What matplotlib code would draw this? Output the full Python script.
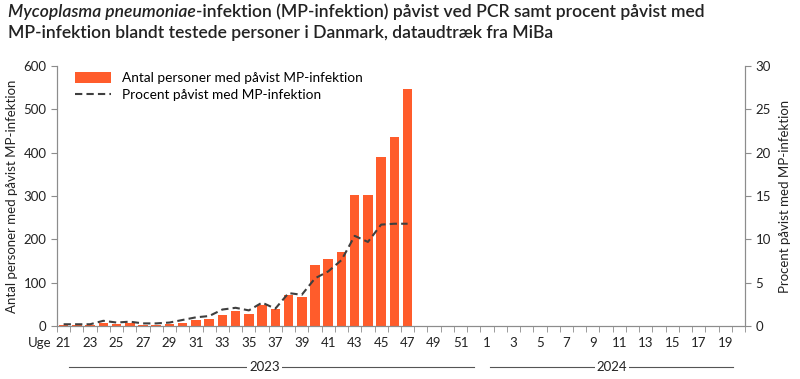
import matplotlib
matplotlib.use("Agg")
import matplotlib.pyplot as plt
import matplotlib.transforms as mtransforms
import numpy as np

weeks_2023 = list(range(21, 53))
weeks_2024 = list(range(1, 21))
week_labels = [str(w) for w in weeks_2023 + weeks_2024]

antal = [3, 2, 2, 8, 5, 7, 3, 2, 5, 8, 15, 17, 25, 35, 28, 49, 40, 72, 67,
         141, 155, 170, 303, 303, 391, 437, 546]
procent = [0.2, 0.2, 0.2, 0.6, 0.4, 0.5, 0.3, 0.3, 0.4, 0.7, 1.0, 1.15, 1.9,
           2.1, 1.8, 2.7, 2.0, 3.8, 3.6, 5.5, 6.3, 7.6, 10.4, 9.7, 11.7, 11.8, 11.8]

plt.rcParams['font.family'] = ['Lato', 'DejaVu Sans']

fig = plt.figure(figsize=(8, 3.79), dpi=100)
ax = fig.add_axes([57/800, 1-326/379, (745-57)/800, (326-66)/379])
ax2 = ax.twinx()

n = len(week_labels)
x = np.arange(n)
bar_color = '#FF5C2B'
ax.bar(x[:len(antal)], antal, width=0.72, color=bar_color,
       label='Antal personer med påvist MP-infektion', zorder=2)
ax2.plot(x[:len(procent)], procent, color='#3F3F3F', linestyle=(0, (3.5, 2)),
         linewidth=1.5, label='Procent påvist med MP-infektion')

ax.set_xlim(-0.5, n - 0.5)
ax.set_ylim(0, 600)
ax2.set_ylim(0, 30)
ax.set_yticks(range(0, 601, 100))
ax2.set_yticks(range(0, 31, 5))

spine_c = '#8C8C8C'
for a in (ax, ax2):
    a.spines['top'].set_visible(False)
    for s in ('left', 'right', 'bottom'):
        a.spines[s].set_color(spine_c)
ax.tick_params(axis='y', colors=spine_c, labelcolor='#222222', labelsize=9.5, length=4)
ax2.tick_params(axis='y', colors=spine_c, labelcolor='#222222', labelsize=9.5, length=4)

lab_idx = [i for i in range(n) if i % 2 == 0]
ax.set_xticks(lab_idx)
ax.set_xticklabels([week_labels[i] for i in lab_idx])
ax.set_xticks(np.arange(-0.5, n, 1.0), minor=True)
ax.tick_params(axis='x', which='major', length=0, labelsize=9.5, labelcolor='#222222', pad=8)
ax.tick_params(axis='x', which='minor', length=4, color=spine_c)

ax.set_ylabel('Antal personer med påvist MP-infektion', fontsize=9.5, color='#222222', labelpad=4)
ax2.set_ylabel('Procent påvist med MP-infektion', fontsize=9.5, color='#222222', labelpad=6)

# legend
h1, l1 = ax.get_legend_handles_labels()
h2, l2 = ax2.get_legend_handles_labels()
ax.legend(h1 + h2, l1 + l2, loc='upper left', bbox_to_anchor=(0.015, 1.01),
          frameon=False, fontsize=9.8, handlelength=2.6, handleheight=0.9,
          labelspacing=0.35, borderaxespad=0.2)

# "Uge" label
fig.text(40/800, 1-343/379, 'Uge', fontsize=9.5, color='#222222', ha='center', va='center')

# year labels with lines
trans = mtransforms.blended_transform_factory(ax.transData, fig.transFigure)
yy = 1 - 367/379
for (x0, x1, xc, txt) in [(0.4, 31.0, 15.2, '2023'), (32.2, 50.6, 41.45, '2024')]:
    ax.plot([x0, x1], [yy, yy], transform=trans, color='#555555', lw=0.8, clip_on=False)
    ax.text(xc, yy, txt, transform=trans, ha='center', va='center', fontsize=9.5,
            color='#222222', bbox=dict(facecolor='white', edgecolor='none', pad=1.5),
            clip_on=False)

# title
fig.canvas.draw()
r = fig.canvas.get_renderer()
tfs = 12.6
t1 = fig.text(8/800, 1-12/379, 'Mycoplasma pneumoniae', fontsize=tfs, style='italic',
              weight='semibold', color='#222222', va='center', ha='left')
bb = t1.get_window_extent(renderer=r)
fig.text(bb.x1/800, 1-12/379, '-infektion (MP-infektion) påvist ved PCR samt procent påvist med',
         fontsize=tfs, weight='semibold', color='#222222', va='center', ha='left')
fig.text(8/800, 1-33/379, 'MP-infektion blandt testede personer i Danmark, dataudtræk fra MiBa',
         fontsize=tfs, weight='semibold', color='#222222', va='center', ha='left')

fig.savefig('out.png', dpi=100)
